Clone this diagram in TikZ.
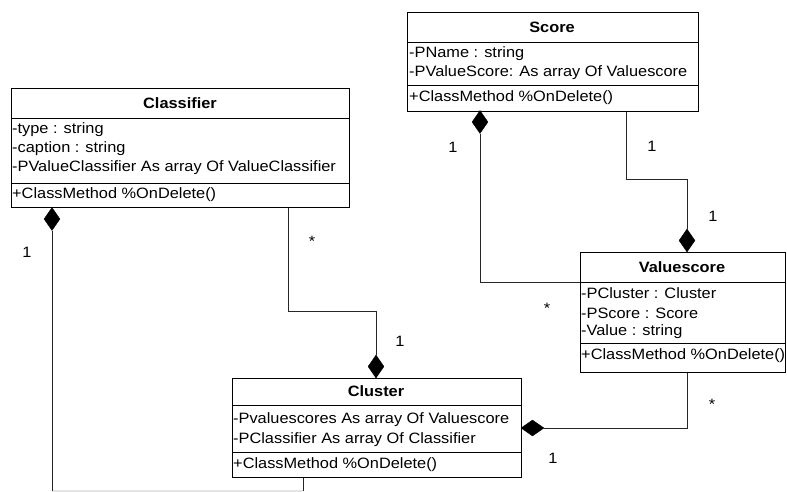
\documentclass[tikz,border=0pt]{standalone}
\usepackage{fontspec}
\setmainfont[FakeStretch=1.09]{Liberation Sans}
\usetikzlibrary{shapes.geometric}
\begin{document}
\begin{tikzpicture}[x=1pt,y=-1pt,
 cls/.style={draw, line width=1pt, anchor=north west, inner sep=0pt},
 sep/.style={line width=1pt},
 attr/.style={anchor=west, inner sep=0pt, font=\fontsize{15}{18}\selectfont},
 ttl/.style={inner sep=0pt, font=\fontsize{15}{18}\selectfont\bfseries},
 conn/.style={line width=0.8pt, draw=black!85},
 diav/.style={diamond, fill=black, draw=black, inner sep=0pt, minimum width=16pt, minimum height=23pt},
 diah/.style={diamond, fill=black, draw=black, inner sep=0pt, minimum width=23pt, minimum height=16pt},
 mult/.style={inner sep=0pt, font=\fontsize{15}{18}\selectfont}]
\useasboundingbox (0,0) rectangle (787,491);

% Score
\node[cls, minimum width=291pt, minimum height=99pt] (score) at (407,12) {};
\draw[sep] (score.west |- 0,42) -- (score.east |- 0,42);
\draw[sep] (score.west |- 0,85) -- (score.east |- 0,85);
\node[ttl] (scoret) at (552,27) {Score};
\node[attr] (scorea1) at (409,54) {-PName : string};
\node[attr] (scorea2) at (409,73) {-PValueScore: As array Of Valuescore};
\node[attr] (scorem) at (409,98) {+ClassMethod \%OnDelete()};

% Classifier
\node[cls, minimum width=338pt, minimum height=119pt] (classifier) at (11,88) {};
\draw[sep] (classifier.west |- 0,118) -- (classifier.east |- 0,118);
\draw[sep] (classifier.west |- 0,183) -- (classifier.east |- 0,183);
\node[ttl] (classifiert) at (180,103) {Classifier};
\node[attr] (classifiera1) at (12,130) {-type : string};
\node[attr] (classifiera2) at (12,149) {-caption : string};
\node[attr] (classifiera3) at (12,168) {-PValueClassifier As array Of ValueClassifier};
\node[attr] (classifierm) at (12,195) {+ClassMethod \%OnDelete()};

% Valuescore
\node[cls, minimum width=205pt, minimum height=120pt] (valuescore) at (580,252) {};
\draw[sep] (valuescore.west |- 0,282) -- (valuescore.east |- 0,282);
\draw[sep] (valuescore.west |- 0,343) -- (valuescore.east |- 0,343);
\node[ttl] (valuescoret) at (682,267) {Valuescore};
\node[attr] (valuescorea1) at (581,293) {-PCluster : Cluster};
\node[attr] (valuescorea2) at (581,313) {-PScore : Score};
\node[attr] (valuescorea3) at (581,332) {-Value : string};
\node[attr] (valuescorem) at (581,356) {+ClassMethod \%OnDelete()};

% Cluster
\node[cls, minimum width=289pt, minimum height=99pt] (cluster) at (232,378) {};
\draw[sep] (cluster.west |- 0,405) -- (cluster.east |- 0,405);
\draw[sep] (cluster.west |- 0,452) -- (cluster.east |- 0,452);
\node[ttl] (clustert) at (376,391) {Cluster};
\node[attr] (clustera1) at (233,420) {-Pvaluescores As array Of Valuescore};
\node[attr] (clustera2) at (233,440) {-PClassifier As array Of Classifier};
\node[attr] (clusterm) at (233,465) {+ClassMethod \%OnDelete()};

% diamonds
\node[diav] (d1) at (52,219) {};
\node[diav] (d2) at (376,366.5) {};
\node[diav] (d3) at (480,122) {};
\node[diav] (d4) at (687,240.5) {};
\node[diah] (d5) at (532.5,428) {};

\coordinate (e1) at (52,491);
\coordinate (e2) at (303,491);

% connectors
\draw[line width=1.2pt, black!10] (e1) -- (e2);
\draw[conn] (d1.south) -- (e1);
\draw[conn] (classifier.south -| 288,0) -- (288,311) -- (376,311) -- (d2.north);
\draw[conn] (d3.south) |- (valuescore.west |- 0,282);
\draw[conn] (score.south -| 626,0) |- (687,179) -- (d4.north);
\draw[conn] (valuescore.south -| 687,0) |- (d5.east);
\draw[conn] (cluster.south -| 303,0) -- (e2);

% multiplicities
\node[mult] (m1) at (27,252) {1};
\node[mult] (m2) at (312,241) {*};
\node[mult] (m3) at (400,341) {1};
\node[mult] (m4) at (453,147) {1};
\node[mult] (m5) at (547,308) {*};
\node[mult] (m6) at (652,146) {1};
\node[mult] (m7) at (713,216) {1};
\node[mult] (m8) at (712,404) {*};
\node[mult] (m9) at (553,458) {1};
\end{tikzpicture}
\end{document}
